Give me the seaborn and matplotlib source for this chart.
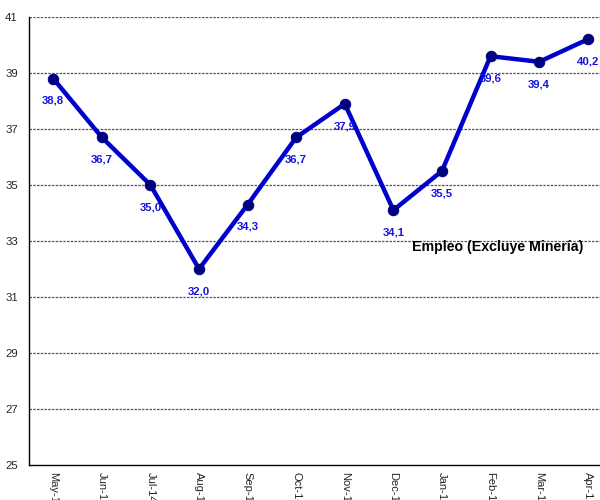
import matplotlib
matplotlib.use("Agg")
import matplotlib.pyplot as plt
import seaborn as sns
import pandas as pd
import numpy as np
from matplotlib.ticker import FixedLocator

months = ["May-14", "Jun-14", "Jul-14", "Aug-14", "Sep-14", "Oct-14",
          "Nov-14", "Dec-14", "Jan-15", "Feb-15", "Mar-15", "Apr-15"]
values = [38.8, 36.7, 35.0, 32.0, 34.3, 36.7, 37.9, 34.1, 35.5, 39.6, 39.4, 40.2]
labels = ["38,8", "36,7", "35,0", "32,0", "34,3", "36,7", "37,9", "34,1", "35,5", "39,6", "39,4", "40,2"]
yticks = [25, 27, 29, 31, 33, 35, 37, 39, 41]
title_text = "Empleo (Excluye Minería)"

sns.set_style("white")
plt.rcParams['font.family'] = ['Liberation Sans', 'DejaVu Sans']

df = pd.DataFrame({"x": np.arange(len(months)), "v": values})

fig = plt.figure(figsize=(6, 5), dpi=100)
ax = fig.add_axes([29/600, 35/500, 583/600, 448/500])

for y in yticks[1:]:
    ax.axhline(y, color="#555555", lw=0.9, ls=(0, (2, 1)), zorder=1)

sns.lineplot(data=df, x="x", y="v", ax=ax, color="#0000CC", lw=3.2,
             marker="o", markersize=7.5, markerfacecolor="#000080",
             markeredgecolor="#000080", zorder=3)

for i, (v, t) in enumerate(zip(values, labels)):
    ax.annotate(t, (i, v), xytext=(0, -16), textcoords="offset points",
                ha="center", va="center", color="#1515DD", fontsize=8.2,
                fontweight="bold", zorder=4)

ax.text(7.38, 32.8, title_text, fontsize=10.2, fontweight="bold", color="black",
        ha="left", va="center", zorder=5)

ax.set_xlim(-0.5, 11.5)
ax.set_ylim(25, 41)
ax.set_yticks(yticks)
ax.set_yticklabels([str(y) for y in yticks], fontsize=8.2)
ax.set_xticks(np.arange(len(months)))
ax.set_xticklabels(months, rotation=-90, fontsize=8, va="top", ha="center")
ax.xaxis.set_minor_locator(FixedLocator(np.arange(-0.5, 12, 1)))
ax.tick_params(axis="x", which="major", length=0, pad=5)
ax.tick_params(axis="x", which="minor", length=4, width=0.8, color="black", direction="out")
ax.tick_params(axis="y", length=4, width=0.8, color="black", direction="out", pad=4)
ax.set_xlabel("")
ax.set_ylabel("")
for s in ["top", "right"]:
    ax.spines[s].set_visible(False)
for s in ["left", "bottom"]:
    ax.spines[s].set_color("black")
    ax.spines[s].set_linewidth(1.0)

fig.savefig("out.png", dpi=100)
